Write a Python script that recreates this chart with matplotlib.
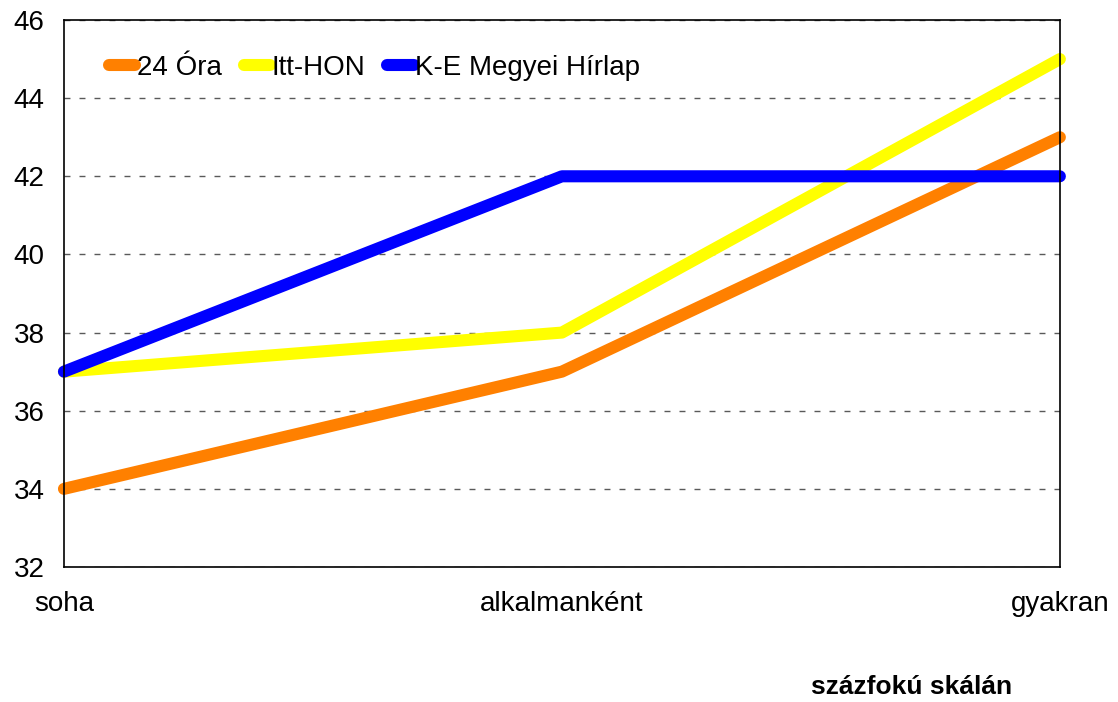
import matplotlib.pyplot as plt

categories = ["soha", "alkalmanként", "gyakran"]
ora24 = [34, 37, 43]
itthon = [37, 38, 45]
ke_megyei = [37, 42, 42]

plt.rcParams['font.family'] = ['Liberation Sans', 'DejaVu Sans']

fig = plt.figure(figsize=(11.18, 7.02), dpi=100)
ax = fig.add_axes([0.0572, 0.1923, 0.8908, 0.7792])

x = range(len(categories))
ax.plot(x, ora24, color="#FF8000", lw=8.7, solid_capstyle="round", label="24 Óra")
ax.plot(x, itthon, color="#FFFF00", lw=8.7, solid_capstyle="round", label="Itt-HON")
ax.plot(x, ke_megyei, color="#0000FF", lw=8.7, solid_capstyle="round", label="K-E Megyei Hírlap")

ax.set_xlim(0, 2)
ax.set_ylim(32, 46)
ax.set_yticks(range(32, 47, 2))
ax.set_xticks(list(x))
ax.set_xticklabels(categories)
ax.tick_params(length=0, labelsize=20)
ax.tick_params(axis="y", pad=14)
ax.tick_params(axis="x", pad=17)
ax.yaxis.grid(True, linestyle=(0, (4.3, 6.5)), color="#5a5a5a", lw=1)
ax.set_axisbelow(True)
for s in ax.spines.values():
    s.set_linewidth(1.2)
for ln in ax.lines:
    ln.set_clip_on(False)

ax.legend(loc="upper left", ncol=3, frameon=False, fontsize=20,
          handlelength=0.95, handletextpad=0.05, columnspacing=0.8,
          bbox_to_anchor=(0.02, 0.982))

fig.text(0.815, 0.004, "százfokú skálán", fontsize=19, fontweight="bold",
         ha="center", va="bottom")

fig.savefig("out.png")
